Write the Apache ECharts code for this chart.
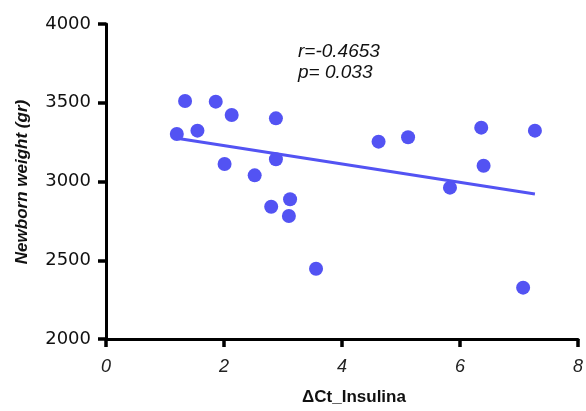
<!DOCTYPE html>
<html>
<head>
<meta charset="utf-8">
<script src="https://cdn.jsdelivr.net/npm/echarts@6/dist/echarts.min.js"></script>
<style>html,body{margin:0;padding:0;background:#fff}#c{width:586px;height:411px}</style>
</head>
<body>
<div id="c"></div>
<script>
var ctValues = [1.34, 1.86, 2.13, 2.88, 1.20, 1.55, 2.88, 2.01, 2.52, 3.12, 2.80, 3.10, 3.56, 4.62, 5.12, 6.36, 7.27, 6.40, 5.83, 7.07];
var weights  = [3511, 3507, 3422, 3401, 3302, 3323, 3141, 3111, 3039, 2887, 2840, 2781, 2446, 3253, 3281, 3342, 3323, 3100, 2961, 2326];
var fitX = [1.2, 7.27];
var fitY = [3274, 2921];
var xTicks = [0, 2, 4, 6, 8];
var yTicks = [2000, 2500, 3000, 3500, 4000];
var statLines = ['r=-0.4653', 'p= 0.033'];
var xTitle = '\u0394Ct_Insulina';
var yTitle = 'Newborn weight (gr)';

var blue = '#5353F3';
var chart = echarts.init(document.getElementById('c'));
chart.setOption({
  animation: false,
  grid: {left: 106, right: 7, top: 24, bottom: 72},
  xAxis: {
    type: 'value', min: xTicks[0], max: xTicks[xTicks.length-1], interval: 2,
    splitLine: {show: false},
    axisLine: {show: true, onZero: false, lineStyle: {color: '#000', width: 3}},
    axisTick: {show: true, length: 8, lineStyle: {color: '#000', width: 3.5}},
    axisLabel: {color: '#222', fontFamily: 'Liberation Sans', fontStyle: 'italic', fontSize: 18, margin: 19,
      formatter: function(v){ return String(v); }}
  },
  yAxis: {
    type: 'value', min: yTicks[0], max: yTicks[yTicks.length-1], interval: 500,
    splitLine: {show: false},
    axisLine: {show: true, onZero: false, lineStyle: {color: '#000', width: 3}},
    axisTick: {show: true, length: 8, lineStyle: {color: '#000', width: 3.5}},
    axisLabel: {color: '#111', fontFamily: 'DejaVu Sans', fontSize: 18, margin: 15,
      formatter: function(v){ return String(v); }}
  },
  graphic: [
    {type: 'text', left: 298, top: 42, style: {text: statLines[0], font: 'italic 19px "Liberation Sans"', fill: '#111'}},
    {type: 'text', left: 298, top: 63, style: {text: statLines[1], font: 'italic 19px "Liberation Sans"', fill: '#111'}},
    {type: 'text', x: 354, y: 397, style: {text: xTitle, font: 'bold 17px "Liberation Sans"', fill: '#111', align: 'center', verticalAlign: 'middle'}},
    {type: 'text', x: 22, y: 182, rotation: Math.PI/2, style: {text: yTitle, font: 'italic bold 17px "Liberation Sans"', fill: '#111', align: 'center', verticalAlign: 'middle'}}
  ],
  series: [
    {type: 'line', data: fitX.map(function(x,i){return [x, fitY[i]];}), symbol: 'none',
     lineStyle: {color: blue, width: 3}, z: 2},
    {type: 'scatter', data: ctValues.map(function(x,i){return [x, weights[i]];}),
     symbol: 'circle', symbolSize: 14, itemStyle: {color: blue, opacity: 1}, z: 3}
  ]
});
</script>
</body>
</html>
